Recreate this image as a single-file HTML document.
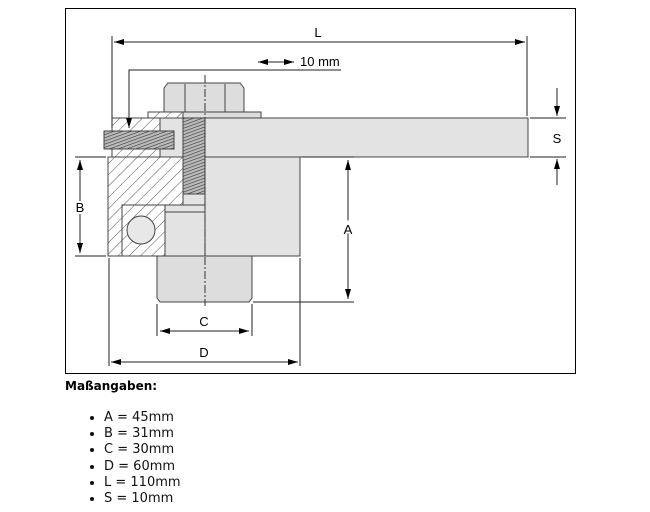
<!DOCTYPE html>
<html><head><style>
body{margin:0;background:#fff;width:650px;height:512px;overflow:hidden;font-family:Verdana,"DejaVu Sans",sans-serif}
#f{position:absolute;left:65px;top:8px;width:509px;height:364px;border:1px solid #000;box-sizing:content-box}
h4{position:absolute;left:65px;top:379px;margin:0;font:bold 12px "DejaVu Sans",Verdana,sans-serif}
ul{position:absolute;left:0;top:410px;margin:0;padding-left:104px;font:13px "DejaVu Sans",Verdana,sans-serif;line-height:16.2px;color:#111}
</style></head><body>
<div id="f"></div>
<svg width="650" height="380" style="position:absolute;left:0;top:0" font-family="Liberation Sans,Arial,sans-serif" font-size="13">
<defs>
<pattern id="h" width="8" height="8" patternUnits="userSpaceOnUse" patternTransform="rotate(45)"><rect width="8" height="8" fill="#fff"/><line x1="0" y1="0" x2="0" y2="8" stroke="#555" stroke-width="1"/></pattern>
<pattern id="t" width="3" height="3" patternUnits="userSpaceOnUse" patternTransform="rotate(70)"><rect width="3" height="3" fill="#bbb"/><line x1="0" y1="0" x2="0" y2="3" stroke="#333" stroke-width="1.2"/></pattern>
<marker id="a" markerWidth="10" markerHeight="6" refX="10" refY="3" orient="auto-start-reverse" markerUnits="userSpaceOnUse"><path d="M0,0L10,3L0,6z" fill="#000"/></marker>
</defs>
<g stroke="#444" stroke-width="1">
<path d="M164,88 L168,83 L240,83 L244,88 L244,112 L164,112z" fill="#ddd"/>
<line x1="185" y1="84" x2="185" y2="112"/><line x1="225" y1="84" x2="225" y2="112"/>
<rect x="148" y="112" width="113" height="6" fill="#ddd"/>
<rect x="148" y="112" width="35" height="6" fill="url(#h)"/>
<rect x="183" y="118" width="345" height="39" fill="#e3e3e3"/>
<rect x="112" y="118" width="48" height="39" fill="url(#h)"/>
<rect x="160" y="118" width="23" height="39" fill="#e3e3e3"/>
<rect x="205" y="157" width="95" height="99" fill="#e3e3e3"/>
<path d="M108,157 L183,157 L183,205 L122,205 L122,256 L108,256z" fill="url(#h)"/>
<rect x="122" y="205" width="43" height="51" fill="url(#h)"/>
<circle cx="141" cy="230" r="14" fill="#e8e8e8"/>
<rect x="165" y="205" width="40" height="51" fill="#e3e3e3"/>
<line x1="165" y1="212" x2="205" y2="212"/>
<rect x="183" y="118" width="22" height="76" fill="url(#t)"/>
<rect x="183" y="194" width="22" height="11" fill="#e3e3e3"/>
<rect x="104" y="131" width="70" height="18" fill="url(#t)"/>
<path d="M157,256 L252,256 L252,298 L249,302 L160,302 L157,298z" fill="#ddd"/>
</g>
<line x1="205" y1="75" x2="205" y2="306" stroke="#333" stroke-dasharray="8,2,2,2"/>
<g stroke="#222" stroke-width="1" fill="none">
<line x1="112" y1="36" x2="112" y2="128"/><line x1="527" y1="36" x2="527" y2="116"/>
<line x1="114" y1="42" x2="525" y2="42" marker-start="url(#a)" marker-end="url(#a)"/>
<line x1="258" y1="62" x2="294" y2="62" marker-start="url(#a)" marker-end="url(#a)"/>
<polyline points="341,70 129,70 129,128" marker-end="url(#a)"/>
<line x1="530" y1="118" x2="566" y2="118"/><line x1="530" y1="157" x2="566" y2="157"/>
<line x1="557" y1="88" x2="557" y2="116" marker-end="url(#a)"/>
<line x1="557" y1="185" x2="557" y2="159" marker-end="url(#a)"/>
<line x1="302" y1="157" x2="354" y2="157"/><line x1="253" y1="302" x2="354" y2="302"/>
<line x1="348" y1="160" x2="348" y2="299" marker-start="url(#a)" marker-end="url(#a)"/>
<line x1="75" y1="157" x2="106" y2="157"/><line x1="75" y1="256" x2="106" y2="256"/>
<line x1="80" y1="160" x2="80" y2="253" marker-start="url(#a)" marker-end="url(#a)"/>
<line x1="157" y1="304" x2="157" y2="336"/><line x1="252" y1="304" x2="252" y2="336"/>
<line x1="160" y1="331" x2="249" y2="331" marker-start="url(#a)" marker-end="url(#a)"/>
<line x1="109" y1="258" x2="109" y2="366"/><line x1="300" y1="258" x2="300" y2="366"/>
<line x1="111" y1="362" x2="298" y2="362" marker-start="url(#a)" marker-end="url(#a)"/>
</g>
<g fill="#000" stroke="#fff" stroke-width="4" paint-order="stroke">
<text x="318" y="37" text-anchor="middle">L</text>
<text x="300" y="66" stroke="none">10 mm</text>
<text x="557" y="143" text-anchor="middle" stroke="none">S</text>
<text x="348" y="234" text-anchor="middle">A</text>
<text x="80" y="212" text-anchor="middle">B</text>
<text x="204" y="326" text-anchor="middle" stroke="none">C</text>
<text x="204" y="357" text-anchor="middle" stroke="none">D</text>
</g>
</svg>
<h4>Maßangaben:</h4>
<ul>
<li>A = 45mm</li><li>B = 31mm</li><li>C = 30mm</li><li>D = 60mm</li><li>L = 110mm</li><li>S = 10mm</li>
</ul>
</body></html>
